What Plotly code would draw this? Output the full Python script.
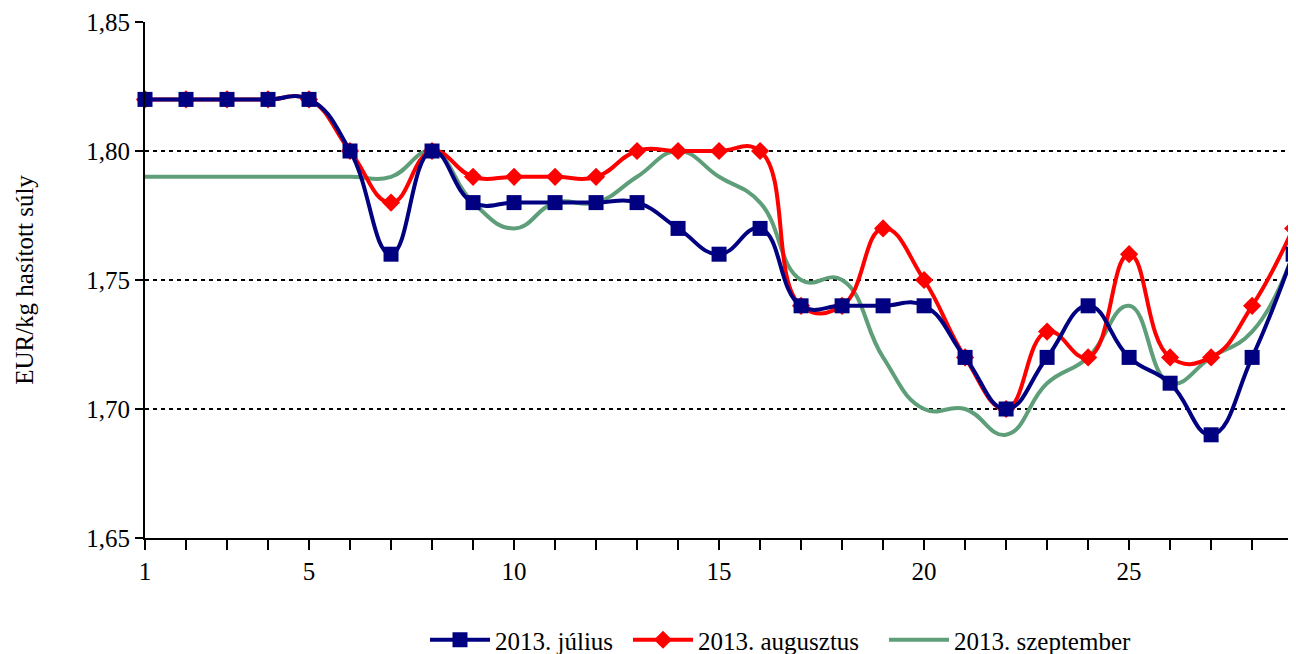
import plotly.graph_objects as go

days = list(range(1, 30))
julius = [1.82, 1.82, 1.82, 1.82, 1.82, 1.80, 1.76, 1.80, 1.78, 1.78,
          1.78, 1.78, 1.78, 1.77, 1.76, 1.77, 1.74, 1.74, 1.74, 1.74,
          1.72, 1.70, 1.72, 1.74, 1.72, 1.71, 1.69, 1.72, 1.76]
augusztus = [1.82, 1.82, 1.82, 1.82, 1.82, 1.80, 1.78, 1.80, 1.79, 1.79,
             1.79, 1.79, 1.80, 1.80, 1.80, 1.80, 1.74, 1.74, 1.77, 1.75,
             1.72, 1.70, 1.73, 1.72, 1.76, 1.72, 1.72, 1.74, 1.77]
szeptember = [1.79, 1.79, 1.79, 1.79, 1.79, 1.79, 1.79, 1.80, 1.78, 1.77,
              1.78, 1.78, 1.79, 1.80, 1.79, 1.78, 1.75, 1.75, 1.72, 1.70,
              1.70, 1.69, 1.71, 1.72, 1.74, 1.71, 1.72, 1.73, 1.76]
labels = ["2013. július", "2013. augusztus", "2013. szeptember"]
x_labels = {1: "1", 5: "5", 10: "10", 15: "15", 20: "20", 25: "25"}
y_ticks = [1.65, 1.70, 1.75, 1.80, 1.85]

FONT = "Liberation Serif"
FS = 25
SMOOTH = 1.3
W, H = 1288, 646

fig = go.Figure()
fig.add_trace(go.Scatter(
    x=days, y=szeptember, name=labels[2], mode="lines",
    line=dict(color="#5E9E78", width=4, shape="spline", smoothing=SMOOTH),
    cliponaxis=False, legend="legend3"))
fig.add_trace(go.Scatter(
    x=days, y=augusztus, name=labels[1], mode="lines+markers",
    line=dict(color="#FF0000", width=4, shape="spline", smoothing=SMOOTH),
    marker=dict(symbol="diamond", size=14, color="#FF0000"),
    cliponaxis=False, legend="legend2"))
fig.add_trace(go.Scatter(
    x=days, y=julius, name=labels[0], mode="lines+markers",
    line=dict(color="#000080", width=4, shape="spline", smoothing=SMOOTH),
    marker=dict(symbol="square", size=15, color="#000080"),
    cliponaxis=False, legend="legend"))

# legend centre at page y ~640 -> figure y ~632 (container fraction from bottom)
leg_y = (H - 632) / H
leg_common = dict(orientation="h", xanchor="left", xref="container",
                  yref="container", y=leg_y, yanchor="middle",
                  font=dict(family=FONT, size=FS), itemwidth=60,
                  bgcolor="rgba(0,0,0,0)")

def cx(page_x):
    return (page_x - 8) / W

fig.update_layout(
    width=W, height=H,
    margin=dict(l=137, r=0, t=14, b=116),
    paper_bgcolor="white", plot_bgcolor="white",
    font=dict(family=FONT, size=FS, color="black"),
    separators=", ",
    showlegend=True,
    legend=dict(x=cx(425), **leg_common),
    legend2=dict(x=cx(628), **leg_common),
    legend3=dict(x=cx(884), **leg_common),
    xaxis=dict(
        range=[1, 29.07], tickvals=days,
        ticktext=[x_labels.get(d, "") for d in days],
        showline=True, linecolor="black", linewidth=2,
        ticks="outside", ticklen=10, tickwidth=2, tickcolor="black",
        showgrid=False, zeroline=False, automargin=False,
        tickfont=dict(family=FONT, size=FS)),
    yaxis=dict(
        range=[1.65, 1.85], tickvals=y_ticks, tickformat=".2f",
        showline=True, linecolor="black", linewidth=2,
        ticks="outside", ticklen=8, tickwidth=2, tickcolor="black",
        showgrid=True, gridcolor="black", gridwidth=2, griddash="4px,4px",
        zeroline=False, automargin=False,
        title=dict(text="EUR/kg hasított súly", font=dict(family=FONT, size=FS),
                   standoff=46),
        tickfont=dict(family=FONT, size=FS)),
)

fig.write_html("out.html", post_script="document.body.style.overflow='hidden';")
